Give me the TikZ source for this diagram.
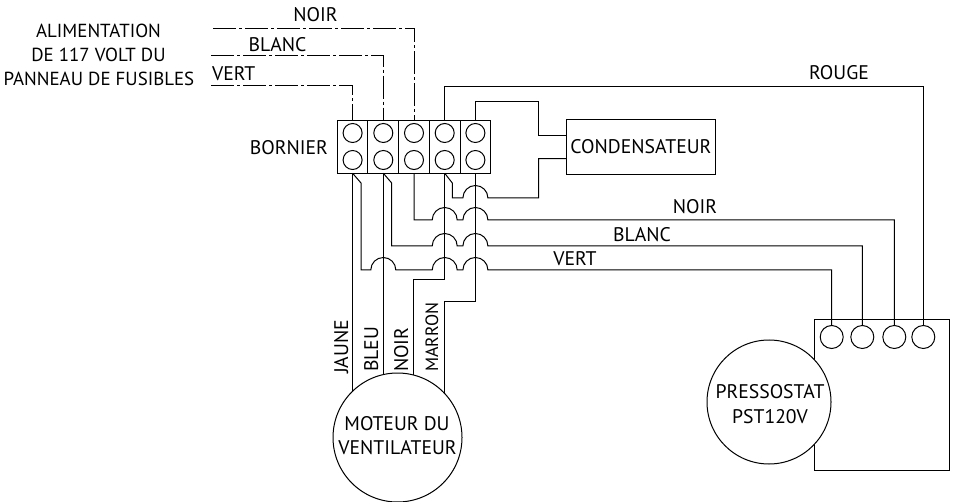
\documentclass[tikz,border=0pt]{standalone}
\usepackage{fontspec}
\setmainfont{PT Sans}
\newcommand{\fsz}{\fontsize{19.7}{24}\selectfont}
\newcommand{\fsm}{\fontsize{18.9}{24}\selectfont}
\newcommand{\fsn}{\fontsize{17.8}{24}\selectfont}
\newcommand{\hop}{ arc[start angle=180,end angle=0,radius=12.5pt] }
\tikzset{
  ln/.style={line width=1.0pt,black},
  wire/.style={line width=1.0pt,black},
  feed/.style={line width=1.0pt,black,dash pattern=on 23pt off 3pt on 3pt off 3pt},
  cell/.style={draw,ln,minimum width=30.7pt,minimum height=52.5pt,inner sep=0pt,outer sep=0pt},
  term/.style={draw,circle,line width=1.0pt,minimum size=19pt,inner sep=0pt,outer sep=0pt},
  pterm/.style={draw,circle,line width=1.0pt,minimum size=23pt,inner sep=0pt,outer sep=0pt,fill=white},
  big/.style={draw,circle,line width=1.0pt,fill=white,inner sep=0pt,outer sep=0pt,align=center,font=\fsz},
  lab/.style={inner sep=0pt,font=\fsz,align=center},
  labs/.style={inner sep=0pt,font=\fsm,align=center},
  labn/.style={inner sep=0pt,font=\fsn,align=center}
}
\begin{document}
\begin{tikzpicture}[x=1pt,y=1pt]
\useasboundingbox (0,0) rectangle (955,-502);
% block
\foreach \n/\x in {1/352.6,2/383.3,3/414,4/444.7,5/475.4}{
  \node[cell] (c\n) at (\x,-147) {};
  \node[term] (a\n) at (\x,-133) {};
  \node[term] (b\n) at (\x,-160) {};
}
\node[lab,anchor=base east] (bornier) at (328,-155) {BORNIER};
% capacitor
\node[draw,ln,minimum width=148.3pt,minimum height=55pt,inner sep=0pt,outer sep=0pt,font=\fsz] (cond) at (640.9,-146.8) {CONDENSATEUR};
\coordinate (condA) at (cond.west |- 0,-136);
\coordinate (condB) at (cond.west |- 0,-158.7);
% feed
\coordinate (fn) at (213,-28.5);
\coordinate (fb) at (211,-56);
\coordinate (fv) at (211,-86);
\draw[feed] (fn) -| (c3.north);
\draw[feed] (fb) -| (c2.north);
\draw[feed] (fv) -| (c1.north);
\node[lab,anchor=base] (tn) at (315.5,-22) {NOIR};
\node[lab,anchor=base] (tb) at (277.5,-52) {BLANC};
\node[lab,anchor=base west] (tv) at (212,-81) {VERT};
\node[labs,anchor=base] (alim) at (98.5,-38) {ALIMENTATION};
\node[labs,anchor=base] (alim2) at (98.5,-62) {DE 117 VOLT DU};
\node[labs,anchor=base] (alim3) at (99,-86) {PANNEAU DE FUSIBLES};
% pressostat
\node[draw,ln,minimum width=134.6pt,minimum height=151.7pt,inner sep=0pt,outer sep=0pt] (pbox) at (882,-394.9) {};
\foreach \n/\x in {1/831.7,2/862.3,3/894.3,4/923.3}{\node[pterm] (p\n) at (\x,-337) {};}
\node[big,minimum size=124pt] (press) at (769,-402) {};
\node[lab,anchor=base] (pt1) at (770,-398) {PRESSOSTAT};
\node[lab,anchor=base] (pt2) at (770,-423) {PST120V};
% motor wires
\draw[wire] (c1.south) -- (352.6,-420);
\draw[wire] (c2.south) -- (383.3,-420);
\draw[wire] (c4.south) -- (444.7,-280) -- (413.7,-280) -- (413.7,-420);
\draw[wire] (c5.south) -- (475.4,-301.7) -- (444.7,-301.7) -- (444.7,-420);
\node[lab,rotate=90,anchor=base west] (mj) at (348,-374) {JAUNE};
\node[lab,rotate=90,anchor=base west] (mb) at (378,-372) {BLEU};
\node[lab,rotate=90,anchor=base west] (mn) at (408,-372) {NOIR};
\node[labn,rotate=90,anchor=base west] (mm) at (438,-372) {MARRON};
% motor
\node[big,minimum size=129pt] (motor) at (397.5,-437.5) {};
\node[lab,anchor=base] (mt1) at (397,-430) {MOTEUR DU};
\node[lab,anchor=base] (mt2) at (397.5,-454) {VENTILATEUR};
% signal wires
\draw[wire] (c1.south) -- (361,-183) -- (361,-270) -- (370.8,-270) \hop -- (432.2,-270) \hop -- (462.9,-270) \hop -- (831.7,-270) -- (p1.north);
\draw[wire] (c2.south) -- (391.7,-183) -- (391.7,-246) -- (432.2,-246) \hop -- (462.9,-246) \hop -- (862.3,-246) -- (p2.north);
\draw[wire] (c3.south) -- (414,-220) -- (432.2,-220) \hop -- (462.9,-220) \hop -- (894.3,-220) -- (p3.north);
\draw[wire] (c4.south) -- (452.3,-183) -- (452.3,-198) -- (462.9,-198) \hop -- (538.7,-198) -- (538.7,-158.7) -- (condB);
\draw[wire] (c5.north) -- (475.4,-101.7) -- (538.7,-101.7) -- (538.7,-136) -- (condA);
\draw[wire] (c4.north) -- (444.7,-87) -- (923.3,-87) -- (p4.north);
\node[lab,anchor=base] (rouge) at (839,-80) {ROUGE};
\node[lab,anchor=base] (noir2) at (695,-214) {NOIR};
\node[lab,anchor=base] (blanc2) at (642,-242) {BLANC};
\node[lab,anchor=base] (vert2) at (575,-266) {VERT};
\end{tikzpicture}
\end{document}
